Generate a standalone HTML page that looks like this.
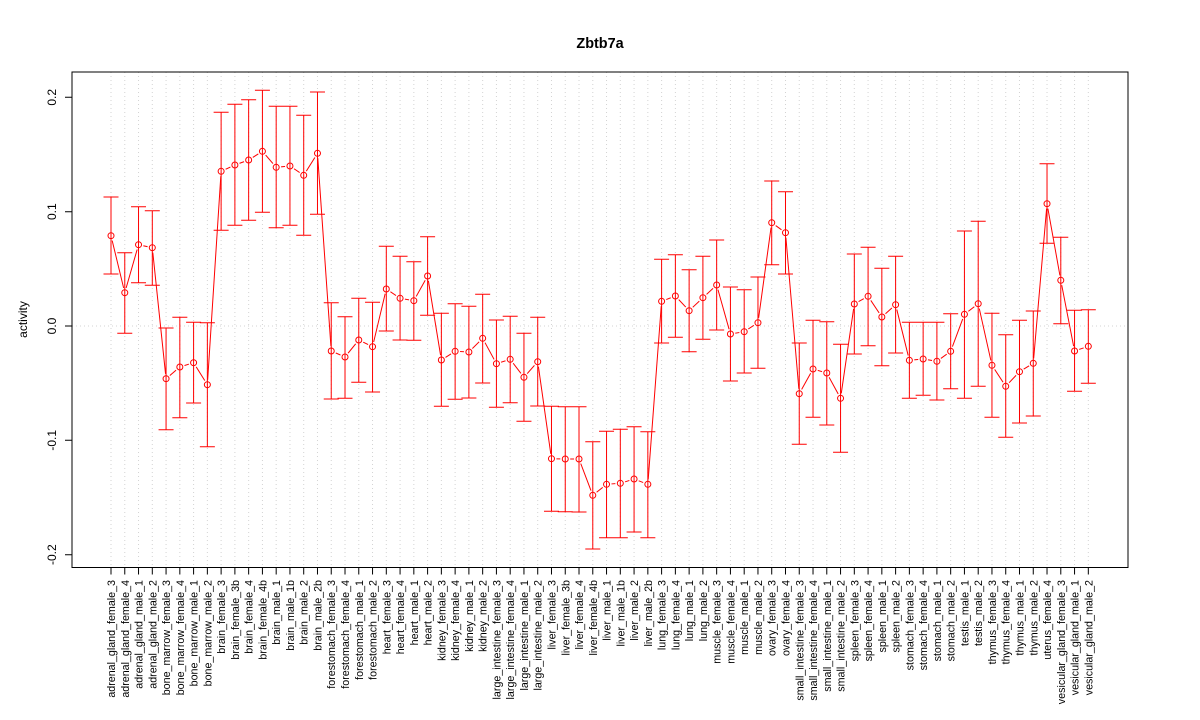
<!DOCTYPE html>
<html><head><meta charset="utf-8"><style>
html,body{margin:0;padding:0;background:#fff;}
svg{display:block;}
text{font-family:"Liberation Sans",Arial,sans-serif;fill:#000;}
</style></head><body>
<svg width="1200" height="720" viewBox="0 0 1200 720" xmlns="http://www.w3.org/2000/svg">
<rect width="1200" height="720" fill="#fff"/>
<defs>
<g id="pts">
<circle cx="111" cy="235.7" r="3"/><circle cx="124.77" cy="292.7" r="3"/><circle cx="138.53" cy="244.7" r="3"/><circle cx="152.3" cy="247.7" r="3"/><circle cx="166.06" cy="378.7" r="3"/><circle cx="179.83" cy="367" r="3"/><circle cx="193.59" cy="362.7" r="3"/><circle cx="207.36" cy="384.7" r="3"/><circle cx="221.12" cy="171.3" r="3"/><circle cx="234.89" cy="165" r="3"/><circle cx="248.65" cy="160" r="3"/><circle cx="262.42" cy="151.3" r="3"/><circle cx="276.18" cy="167.3" r="3"/><circle cx="289.95" cy="166" r="3"/><circle cx="303.71" cy="175.3" r="3"/><circle cx="317.48" cy="153.3" r="3"/><circle cx="331.24" cy="351" r="3"/><circle cx="345.01" cy="357" r="3"/><circle cx="358.77" cy="340" r="3"/><circle cx="372.54" cy="346.7" r="3"/><circle cx="386.3" cy="289" r="3"/><circle cx="400.07" cy="298.3" r="3"/><circle cx="413.83" cy="300.7" r="3"/><circle cx="427.6" cy="276" r="3"/><circle cx="441.36" cy="360" r="3"/><circle cx="455.13" cy="351.3" r="3"/><circle cx="468.89" cy="352" r="3"/><circle cx="482.66" cy="338.3" r="3"/><circle cx="496.42" cy="363.7" r="3"/><circle cx="510.19" cy="359.3" r="3"/><circle cx="523.95" cy="377.3" r="3"/><circle cx="537.72" cy="361.7" r="3"/><circle cx="551.48" cy="458.7" r="3"/><circle cx="565.25" cy="459" r="3"/><circle cx="579.01" cy="459" r="3"/><circle cx="592.78" cy="495.3" r="3"/><circle cx="606.54" cy="484.3" r="3"/><circle cx="620.31" cy="483.3" r="3"/><circle cx="634.07" cy="479" r="3"/><circle cx="647.84" cy="484.3" r="3"/><circle cx="661.6" cy="301.3" r="3"/><circle cx="675.37" cy="296" r="3"/><circle cx="689.13" cy="310.7" r="3"/><circle cx="702.9" cy="297.7" r="3"/><circle cx="716.66" cy="285" r="3"/><circle cx="730.43" cy="334" r="3"/><circle cx="744.19" cy="331.7" r="3"/><circle cx="757.96" cy="322.7" r="3"/><circle cx="771.72" cy="222.7" r="3"/><circle cx="785.49" cy="232.7" r="3"/><circle cx="799.25" cy="393.7" r="3"/><circle cx="813.02" cy="369" r="3"/><circle cx="826.78" cy="373" r="3"/><circle cx="840.55" cy="398.3" r="3"/><circle cx="854.31" cy="304" r="3"/><circle cx="868.08" cy="296.3" r="3"/><circle cx="881.84" cy="317" r="3"/><circle cx="895.61" cy="304.7" r="3"/><circle cx="909.37" cy="360.3" r="3"/><circle cx="923.14" cy="359" r="3"/><circle cx="936.9" cy="361.3" r="3"/><circle cx="950.67" cy="351.3" r="3"/><circle cx="964.43" cy="314.3" r="3"/><circle cx="978.2" cy="303.7" r="3"/><circle cx="991.96" cy="365.3" r="3"/><circle cx="1005.73" cy="386.3" r="3"/><circle cx="1019.49" cy="371.7" r="3"/><circle cx="1033.26" cy="363.3" r="3"/><circle cx="1047.02" cy="203.7" r="3"/><circle cx="1060.79" cy="280.3" r="3"/><circle cx="1074.55" cy="351" r="3"/><circle cx="1088.32" cy="346.3" r="3"/>
</g>
<mask id="gap" maskUnits="userSpaceOnUse" x="0" y="0" width="1200" height="720">
<rect width="1200" height="720" fill="#fff"/>
<use href="#pts" fill="#000" stroke="#000" stroke-width="4"/>
</mask>
</defs>

<!-- grid -->
<path fill="none" stroke="#d3d3d3" stroke-width="1" stroke-dasharray="1 3" d="M111,72V567M124.77,72V567M138.53,72V567M152.3,72V567M166.06,72V567M179.83,72V567M193.59,72V567M207.36,72V567M221.12,72V567M234.89,72V567M248.65,72V567M262.42,72V567M276.18,72V567M289.95,72V567M303.71,72V567M317.48,72V567M331.24,72V567M345.01,72V567M358.77,72V567M372.54,72V567M386.3,72V567M400.07,72V567M413.83,72V567M427.6,72V567M441.36,72V567M455.13,72V567M468.89,72V567M482.66,72V567M496.42,72V567M510.19,72V567M523.95,72V567M537.72,72V567M551.48,72V567M565.25,72V567M579.01,72V567M592.78,72V567M606.54,72V567M620.31,72V567M634.07,72V567M647.84,72V567M661.6,72V567M675.37,72V567M689.13,72V567M702.9,72V567M716.66,72V567M730.43,72V567M744.19,72V567M757.96,72V567M771.72,72V567M785.49,72V567M799.25,72V567M813.02,72V567M826.78,72V567M840.55,72V567M854.31,72V567M868.08,72V567M881.84,72V567M895.61,72V567M909.37,72V567M923.14,72V567M936.9,72V567M950.67,72V567M964.43,72V567M978.2,72V567M991.96,72V567M1005.73,72V567M1019.49,72V567M1033.26,72V567M1047.02,72V567M1060.79,72V567M1074.55,72V567M1088.32,72V567M72,326H1128"/>

<!-- error bars -->
<path fill="none" stroke="#ff0000" stroke-width="1" d="M111,197V274M103.5,197h15M103.5,274h15M124.77,252.7V333.3M117.27,252.7h15M117.27,333.3h15M138.53,206.7V282.7M131.03,206.7h15M131.03,282.7h15M152.3,210.7V285.3M144.8,210.7h15M144.8,285.3h15M166.06,328V429.7M158.56,328h15M158.56,429.7h15M179.83,317.3V417.7M172.33,317.3h15M172.33,417.7h15M193.59,322.3V403M186.09,322.3h15M186.09,403h15M207.36,322.7V446.7M199.86,322.7h15M199.86,446.7h15M221.12,112.3V230.3M213.62,112.3h15M213.62,230.3h15M234.89,104.3V225.3M227.39,104.3h15M227.39,225.3h15M248.65,99.7V220.3M241.15,99.7h15M241.15,220.3h15M262.42,90.3V212.3M254.92,90.3h15M254.92,212.3h15M276.18,106.3V227.7M268.68,106.3h15M268.68,227.7h15M289.95,106.3V225.3M282.45,106.3h15M282.45,225.3h15M303.71,115.3V235.3M296.21,115.3h15M296.21,235.3h15M317.48,92V214.3M309.98,92h15M309.98,214.3h15M331.24,302.7V399M323.74,302.7h15M323.74,399h15M345.01,316.7V398.3M337.51,316.7h15M337.51,398.3h15M358.77,298.3V382.3M351.27,298.3h15M351.27,382.3h15M372.54,302.3V392M365.04,302.3h15M365.04,392h15M386.3,246.3V331M378.8,246.3h15M378.8,331h15M400.07,256.3V340M392.57,256.3h15M392.57,340h15M413.83,261.7V340.3M406.33,261.7h15M406.33,340.3h15M427.6,236.7V315.3M420.1,236.7h15M420.1,315.3h15M441.36,313.3V406.3M433.86,313.3h15M433.86,406.3h15M455.13,303.7V399.3M447.63,303.7h15M447.63,399.3h15M468.89,306.3V398M461.39,306.3h15M461.39,398h15M482.66,294.3V383M475.16,294.3h15M475.16,383h15M496.42,320V407.3M488.92,320h15M488.92,407.3h15M510.19,316.3V402.7M502.69,316.3h15M502.69,402.7h15M523.95,333.3V421.3M516.45,333.3h15M516.45,421.3h15M537.72,317.3V406M530.22,317.3h15M530.22,406h15M551.48,406.3V511.3M543.98,406.3h15M543.98,511.3h15M565.25,406.7V511.7M557.75,406.7h15M557.75,511.7h15M579.01,406.7V512M571.51,406.7h15M571.51,512h15M592.78,441.7V549M585.28,441.7h15M585.28,549h15M606.54,431.3V537.7M599.04,431.3h15M599.04,537.7h15M620.31,429.3V537.7M612.81,429.3h15M612.81,537.7h15M634.07,426.7V532M626.57,426.7h15M626.57,532h15M647.84,431.7V537.7M640.34,431.7h15M640.34,537.7h15M661.6,259.3V343M654.1,259.3h15M654.1,343h15M675.37,254.7V337.3M667.87,254.7h15M667.87,337.3h15M689.13,269.7V351.7M681.63,269.7h15M681.63,351.7h15M702.9,256.3V339.3M695.4,256.3h15M695.4,339.3h15M716.66,240V330M709.16,240h15M709.16,330h15M730.43,287V381M722.93,287h15M722.93,381h15M744.19,289.7V373M736.69,289.7h15M736.69,373h15M757.96,277V368.3M750.46,277h15M750.46,368.3h15M771.72,181V264.7M764.22,181h15M764.22,264.7h15M785.49,191.7V274M777.99,191.7h15M777.99,274h15M799.25,343V444.3M791.75,343h15M791.75,444.3h15M813.02,320.3V417.3M805.52,320.3h15M805.52,417.3h15M826.78,321.7V425M819.28,321.7h15M819.28,425h15M840.55,344.3V452.3M833.05,344.3h15M833.05,452.3h15M854.31,254V354M846.81,254h15M846.81,354h15M868.08,247.3V345.7M860.58,247.3h15M860.58,345.7h15M881.84,268.3V365.7M874.34,268.3h15M874.34,365.7h15M895.61,256.3V353M888.11,256.3h15M888.11,353h15M909.37,322.3V398.3M901.87,322.3h15M901.87,398.3h15M923.14,322.3V395.3M915.64,322.3h15M915.64,395.3h15M936.9,322.3V400M929.4,322.3h15M929.4,400h15M950.67,313.7V388.7M943.17,313.7h15M943.17,388.7h15M964.43,231V398.3M956.93,231h15M956.93,398.3h15M978.2,221.3V386.3M970.7,221.3h15M970.7,386.3h15M991.96,313.3V417.3M984.46,313.3h15M984.46,417.3h15M1005.73,334.7V437.3M998.23,334.7h15M998.23,437.3h15M1019.49,320.3V423M1011.99,320.3h15M1011.99,423h15M1033.26,311V416M1025.76,311h15M1025.76,416h15M1047.02,163.7V243.3M1039.52,163.7h15M1039.52,243.3h15M1060.79,237.3V323.7M1053.29,237.3h15M1053.29,323.7h15M1074.55,310.3V391.3M1067.05,310.3h15M1067.05,391.3h15M1088.32,309.7V383.3M1080.82,309.7h15M1080.82,383.3h15"/>

<!-- connecting line with gaps -->
<polyline mask="url(#gap)" fill="none" stroke="#ff0000" stroke-width="1" points="111,235.7 124.77,292.7 138.53,244.7 152.3,247.7 166.06,378.7 179.83,367 193.59,362.7 207.36,384.7 221.12,171.3 234.89,165 248.65,160 262.42,151.3 276.18,167.3 289.95,166 303.71,175.3 317.48,153.3 331.24,351 345.01,357 358.77,340 372.54,346.7 386.3,289 400.07,298.3 413.83,300.7 427.6,276 441.36,360 455.13,351.3 468.89,352 482.66,338.3 496.42,363.7 510.19,359.3 523.95,377.3 537.72,361.7 551.48,458.7 565.25,459 579.01,459 592.78,495.3 606.54,484.3 620.31,483.3 634.07,479 647.84,484.3 661.6,301.3 675.37,296 689.13,310.7 702.9,297.7 716.66,285 730.43,334 744.19,331.7 757.96,322.7 771.72,222.7 785.49,232.7 799.25,393.7 813.02,369 826.78,373 840.55,398.3 854.31,304 868.08,296.3 881.84,317 895.61,304.7 909.37,360.3 923.14,359 936.9,361.3 950.67,351.3 964.43,314.3 978.2,303.7 991.96,365.3 1005.73,386.3 1019.49,371.7 1033.26,363.3 1047.02,203.7 1060.79,280.3 1074.55,351 1088.32,346.3"/>

<!-- points -->
<use href="#pts" fill="none" stroke="#ff0000" stroke-width="1"/>

<!-- box -->
<rect x="72" y="72" width="1056" height="495.5" fill="none" stroke="#000" stroke-width="1"/>

<!-- axes -->
<path fill="none" stroke="#000" stroke-width="1" d="M72,97.3V554.7M65,97.3H72M65,211.7H72M65,326H72M65,440.3H72M65,554.7H72"/>
<path fill="none" stroke="#000" stroke-width="1" d="M111,567.5H1088.32M111,567.5v7M124.77,567.5v7M138.53,567.5v7M152.3,567.5v7M166.06,567.5v7M179.83,567.5v7M193.59,567.5v7M207.36,567.5v7M221.12,567.5v7M234.89,567.5v7M248.65,567.5v7M262.42,567.5v7M276.18,567.5v7M289.95,567.5v7M303.71,567.5v7M317.48,567.5v7M331.24,567.5v7M345.01,567.5v7M358.77,567.5v7M372.54,567.5v7M386.3,567.5v7M400.07,567.5v7M413.83,567.5v7M427.6,567.5v7M441.36,567.5v7M455.13,567.5v7M468.89,567.5v7M482.66,567.5v7M496.42,567.5v7M510.19,567.5v7M523.95,567.5v7M537.72,567.5v7M551.48,567.5v7M565.25,567.5v7M579.01,567.5v7M592.78,567.5v7M606.54,567.5v7M620.31,567.5v7M634.07,567.5v7M647.84,567.5v7M661.6,567.5v7M675.37,567.5v7M689.13,567.5v7M702.9,567.5v7M716.66,567.5v7M730.43,567.5v7M744.19,567.5v7M757.96,567.5v7M771.72,567.5v7M785.49,567.5v7M799.25,567.5v7M813.02,567.5v7M826.78,567.5v7M840.55,567.5v7M854.31,567.5v7M868.08,567.5v7M881.84,567.5v7M895.61,567.5v7M909.37,567.5v7M923.14,567.5v7M936.9,567.5v7M950.67,567.5v7M964.43,567.5v7M978.2,567.5v7M991.96,567.5v7M1005.73,567.5v7M1019.49,567.5v7M1033.26,567.5v7M1047.02,567.5v7M1060.79,567.5v7M1074.55,567.5v7M1088.32,567.5v7"/>

<!-- title -->
<text x="600" y="48" text-anchor="middle" font-size="14.4" font-weight="bold">Zbtb7a</text>

<!-- y axis labels -->
<g font-size="12" text-anchor="middle">
<text transform="translate(56,97.3) rotate(-90)">0.2</text>
<text transform="translate(56,211.7) rotate(-90)">0.1</text>
<text transform="translate(56,326) rotate(-90)">0.0</text>
<text transform="translate(56,440.3) rotate(-90)">-0.1</text>
<text transform="translate(56,554.7) rotate(-90)">-0.2</text>
<text transform="translate(27,319.5) rotate(-90)">activity</text>
</g>

<!-- x axis labels -->
<g font-size="10.7" text-anchor="end">
<text transform="translate(115,580) rotate(-90)">adrenal_gland_female_3</text>
<text transform="translate(128.77,580) rotate(-90)">adrenal_gland_female_4</text>
<text transform="translate(142.53,580) rotate(-90)">adrenal_gland_male_1</text>
<text transform="translate(156.3,580) rotate(-90)">adrenal_gland_male_2</text>
<text transform="translate(170.06,580) rotate(-90)">bone_marrow_female_3</text>
<text transform="translate(183.83,580) rotate(-90)">bone_marrow_female_4</text>
<text transform="translate(197.59,580) rotate(-90)">bone_marrow_male_1</text>
<text transform="translate(211.36,580) rotate(-90)">bone_marrow_male_2</text>
<text transform="translate(225.12,580) rotate(-90)">brain_female_3</text>
<text transform="translate(238.89,580) rotate(-90)">brain_female_3b</text>
<text transform="translate(252.65,580) rotate(-90)">brain_female_4</text>
<text transform="translate(266.42,580) rotate(-90)">brain_female_4b</text>
<text transform="translate(280.18,580) rotate(-90)">brain_male_1</text>
<text transform="translate(293.95,580) rotate(-90)">brain_male_1b</text>
<text transform="translate(307.71,580) rotate(-90)">brain_male_2</text>
<text transform="translate(321.48,580) rotate(-90)">brain_male_2b</text>
<text transform="translate(335.24,580) rotate(-90)">forestomach_female_3</text>
<text transform="translate(349.01,580) rotate(-90)">forestomach_female_4</text>
<text transform="translate(362.77,580) rotate(-90)">forestomach_male_1</text>
<text transform="translate(376.54,580) rotate(-90)">forestomach_male_2</text>
<text transform="translate(390.3,580) rotate(-90)">heart_female_3</text>
<text transform="translate(404.07,580) rotate(-90)">heart_female_4</text>
<text transform="translate(417.83,580) rotate(-90)">heart_male_1</text>
<text transform="translate(431.6,580) rotate(-90)">heart_male_2</text>
<text transform="translate(445.36,580) rotate(-90)">kidney_female_3</text>
<text transform="translate(459.13,580) rotate(-90)">kidney_female_4</text>
<text transform="translate(472.89,580) rotate(-90)">kidney_male_1</text>
<text transform="translate(486.66,580) rotate(-90)">kidney_male_2</text>
<text transform="translate(500.42,580) rotate(-90)">large_intestine_female_3</text>
<text transform="translate(514.19,580) rotate(-90)">large_intestine_female_4</text>
<text transform="translate(527.95,580) rotate(-90)">large_intestine_male_1</text>
<text transform="translate(541.72,580) rotate(-90)">large_intestine_male_2</text>
<text transform="translate(555.48,580) rotate(-90)">liver_female_3</text>
<text transform="translate(569.25,580) rotate(-90)">liver_female_3b</text>
<text transform="translate(583.01,580) rotate(-90)">liver_female_4</text>
<text transform="translate(596.78,580) rotate(-90)">liver_female_4b</text>
<text transform="translate(610.54,580) rotate(-90)">liver_male_1</text>
<text transform="translate(624.31,580) rotate(-90)">liver_male_1b</text>
<text transform="translate(638.07,580) rotate(-90)">liver_male_2</text>
<text transform="translate(651.84,580) rotate(-90)">liver_male_2b</text>
<text transform="translate(665.6,580) rotate(-90)">lung_female_3</text>
<text transform="translate(679.37,580) rotate(-90)">lung_female_4</text>
<text transform="translate(693.13,580) rotate(-90)">lung_male_1</text>
<text transform="translate(706.9,580) rotate(-90)">lung_male_2</text>
<text transform="translate(720.66,580) rotate(-90)">muscle_female_3</text>
<text transform="translate(734.43,580) rotate(-90)">muscle_female_4</text>
<text transform="translate(748.19,580) rotate(-90)">muscle_male_1</text>
<text transform="translate(761.96,580) rotate(-90)">muscle_male_2</text>
<text transform="translate(775.72,580) rotate(-90)">ovary_female_3</text>
<text transform="translate(789.49,580) rotate(-90)">ovary_female_4</text>
<text transform="translate(803.25,580) rotate(-90)">small_intestine_female_3</text>
<text transform="translate(817.02,580) rotate(-90)">small_intestine_female_4</text>
<text transform="translate(830.78,580) rotate(-90)">small_intestine_male_1</text>
<text transform="translate(844.55,580) rotate(-90)">small_intestine_male_2</text>
<text transform="translate(858.31,580) rotate(-90)">spleen_female_3</text>
<text transform="translate(872.08,580) rotate(-90)">spleen_female_4</text>
<text transform="translate(885.84,580) rotate(-90)">spleen_male_1</text>
<text transform="translate(899.61,580) rotate(-90)">spleen_male_2</text>
<text transform="translate(913.37,580) rotate(-90)">stomach_female_3</text>
<text transform="translate(927.14,580) rotate(-90)">stomach_female_4</text>
<text transform="translate(940.9,580) rotate(-90)">stomach_male_1</text>
<text transform="translate(954.67,580) rotate(-90)">stomach_male_2</text>
<text transform="translate(968.43,580) rotate(-90)">testis_male_1</text>
<text transform="translate(982.2,580) rotate(-90)">testis_male_2</text>
<text transform="translate(995.96,580) rotate(-90)">thymus_female_3</text>
<text transform="translate(1009.73,580) rotate(-90)">thymus_female_4</text>
<text transform="translate(1023.49,580) rotate(-90)">thymus_male_1</text>
<text transform="translate(1037.26,580) rotate(-90)">thymus_male_2</text>
<text transform="translate(1051.02,580) rotate(-90)">uterus_female_4</text>
<text transform="translate(1064.79,580) rotate(-90)">vesicular_gland_female_3</text>
<text transform="translate(1078.55,580) rotate(-90)">vesicular_gland_male_1</text>
<text transform="translate(1092.32,580) rotate(-90)">vesicular_gland_male_2</text>
</g>
</svg>
</body></html>
